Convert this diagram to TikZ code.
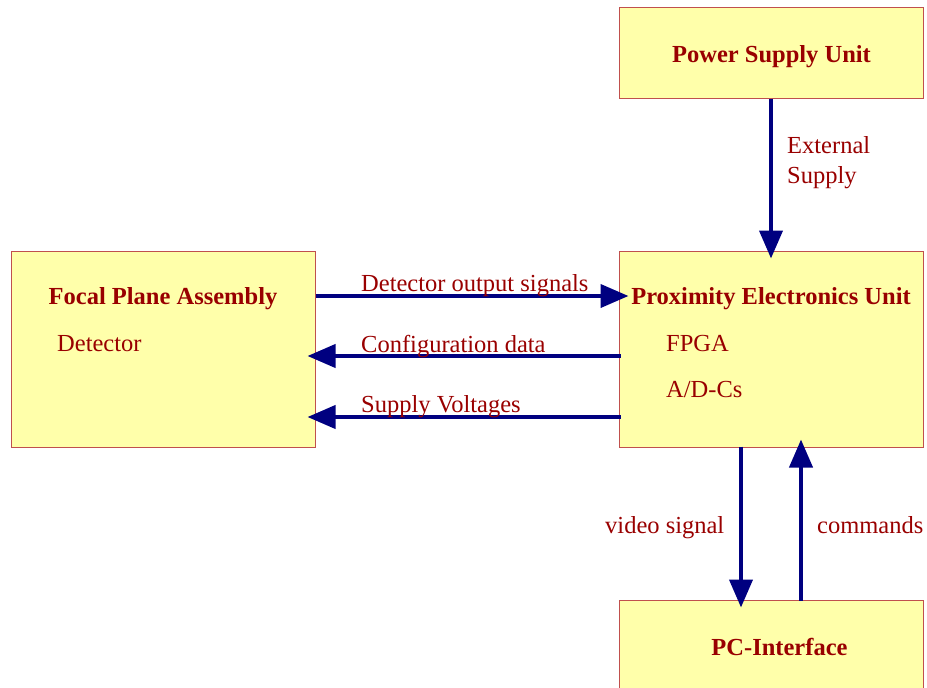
\documentclass[tikz,border=0pt]{standalone}
\usepackage{fontspec}
\setmainfont{Liberation Serif}
\usetikzlibrary{arrows.meta,calc}
\definecolor{boxfill}{HTML}{FFFFAA}
\definecolor{boxline}{HTML}{C0504D}
\definecolor{txt}{HTML}{990000}
\definecolor{arrcol}{HTML}{000080}
\begin{document}
\begin{tikzpicture}[x=1pt,y=-1pt,
  box/.style={draw=boxline,fill=boxfill,line width=1pt,minimum width=304pt,inner sep=0pt},
  lbl/.style={text=txt,inner sep=0pt,font=\fontsize{24.5}{30}\selectfont},
  title/.style={lbl,font=\fontsize{24.5}{30}\selectfont\bfseries},
  arr/.style={draw=arrcol,line width=4pt,-{Triangle[length=28pt,width=23pt]}}]
\useasboundingbox (0,0) rectangle (927,688);
\clip (0,0) rectangle (927,688);
% boxes
\node[box,minimum height=91pt] (psu) at (771,52.5) {};
\node[box,minimum height=196pt] (peu) at (771,349) {};
\node[box,minimum height=196pt] (fpa) at (163,349) {};
\node[box,minimum height=196pt] (pci) at (771,698) {};
% box texts
\node[title,anchor=base] (psut) at (771.5,62) {Power Supply Unit};
\node[title,anchor=base] (fpat) at (163,304) {Focal Plane Assembly};
\node[lbl,anchor=base west] (det) at (57,351) {Detector};
\node[title,anchor=base] (peut) at (771,304) {Proximity Electronics Unit};
\node[lbl,anchor=base west] (fpga) at (666,351) {FPGA};
\node[lbl,anchor=base west] (adc) at (666,397) {A/D-Cs};
\node[title,anchor=base] (pcit) at (779.5,655) {PC-Interface};
% connectors
\draw[arr,shorten >=-8pt] (psu.south) -- (peu.north);
\draw[arr] (fpa.east |- 0,296) -- ($(peu.west |- 0,296)+(10,0)$);
\draw[arr] ($(peu.west |- 0,356)+(2,0)$) -- ($(fpa.east |- 0,356)+(-8,0)$);
\draw[arr] ($(peu.west |- 0,417)+(2,0)$) -- ($(fpa.east |- 0,417)+(-8,0)$);
\draw[arr] ($(peu.south -| 741,0)+(0,-1)$) -- ($(pci.north -| 741,0)+(0,8)$);
\draw[arr] ($(pci.north -| 801,0)+(0,1)$) -- ($(peu.south -| 801,0)+(0,-8)$);
% connector labels
\node[lbl,anchor=base west] (ext) at (787,153) {External};
\node[lbl,anchor=base west] (sup) at (787,183) {Supply};
\node[lbl,anchor=base west] (dos) at (361,291) {Detector output signals};
\node[lbl,anchor=base west] (cfg) at (361,352) {Configuration data};
\node[lbl,anchor=base west] (sv) at (361,412) {Supply Voltages};
\node[lbl,anchor=base west] (vs) at (605,533) {video signal};
\node[lbl,anchor=base west] (cmd) at (817,533) {commands};
\end{tikzpicture}
\end{document}
